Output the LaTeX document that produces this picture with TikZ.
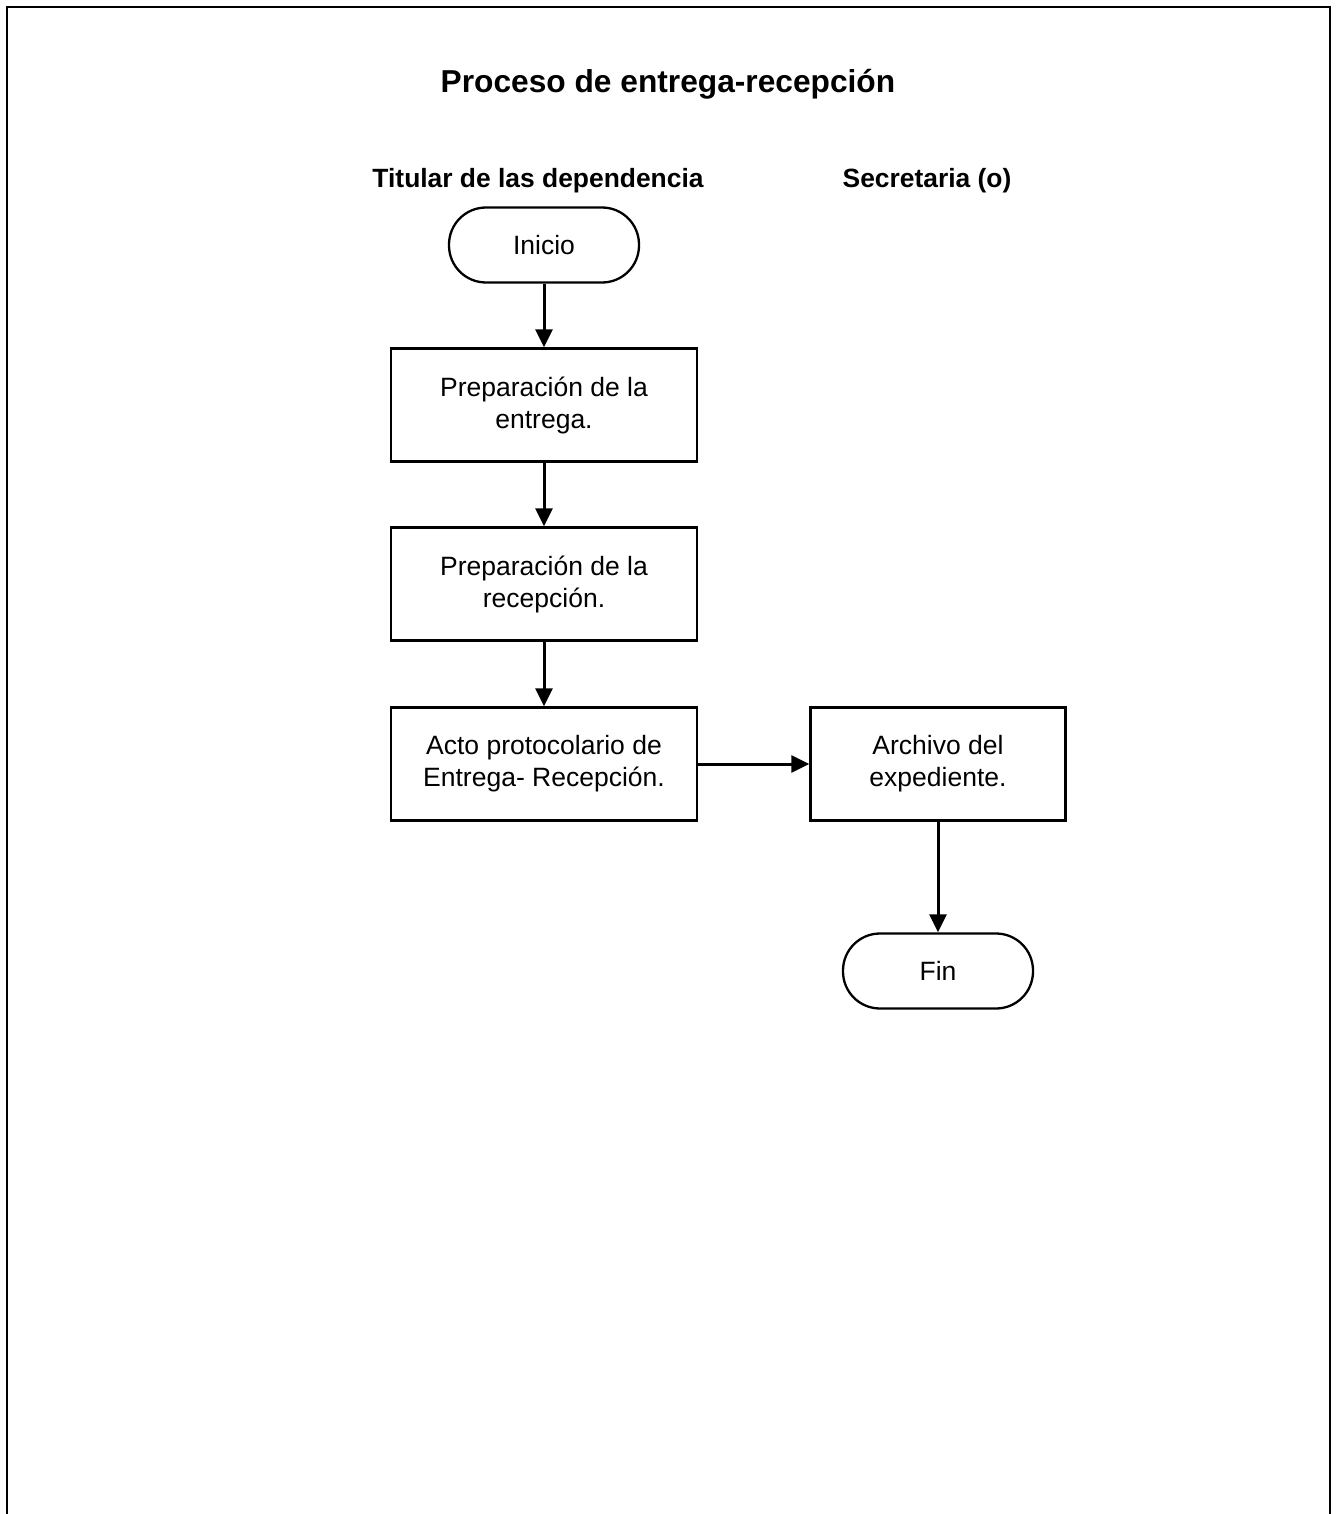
\documentclass[tikz,border=0pt]{standalone}
\usepackage{fontspec}
\setmainfont{Liberation Sans}
\usetikzlibrary{arrows.meta}

\tikzset{
  flowline/.style={line width=3pt, -{Triangle[length=18pt,width=17pt]}},
  procbox/.style={draw, line width=2.3pt, rectangle, minimum width=306pt, minimum height=113pt,
                  align=center, inner sep=0pt, font=\fontsize{26.5}{32}\selectfont},
  terminal/.style={draw, line width=2.3pt, rounded corners=37pt, minimum width=190pt, minimum height=75pt,
                   align=center, inner sep=0pt, font=\fontsize{26.5}{32}\selectfont},
  lanehead/.style={anchor=base, font=\fontsize{26.4}{31}\selectfont\bfseries},
  heading/.style={anchor=base, font=\fontsize{31.7}{38}\selectfont\bfseries}
}

\begin{document}
\begin{tikzpicture}[x=1pt, y=-1pt]
  \useasboundingbox (0,0) rectangle (1337,1514);

  % open frame around the page
  \draw[line width=2.3pt] (7,1514) -- (7,7) -- (1330,7) -- (1330,1514);

  % headings
  \node[heading] (title) at (668,93) {Proceso de entrega-recepción};
  \node[lanehead] (laneA) at (538,188) {Titular de las dependencia};
  \node[lanehead] (laneB) at (927,188) {Secretaria (o)};

  % flow
  \node[terminal] (ini) at (544,245) {Inicio};
  \node[procbox] (b1) at (544,405) {Preparación de la\\entrega.};
  \node[procbox] (b2) at (544,584) {Preparación de la\\recepción.};
  \node[procbox] (b3) at (544,764) {Acto protocolario de\\Entrega- Recepción.};
  \node[procbox, minimum width=255pt] (arch) at (938,764) {Archivo del\\expediente.};
  \node[terminal] (fin) at (938,971) {Fin};

  \draw[flowline] (ini) -- (b1);
  \draw[flowline] (b1) -- (b2);
  \draw[flowline] (b2) -- (b3);
  \draw[flowline] (b3) -- (arch);
  \draw[flowline] (arch) -- (fin);
\end{tikzpicture}
\end{document}
